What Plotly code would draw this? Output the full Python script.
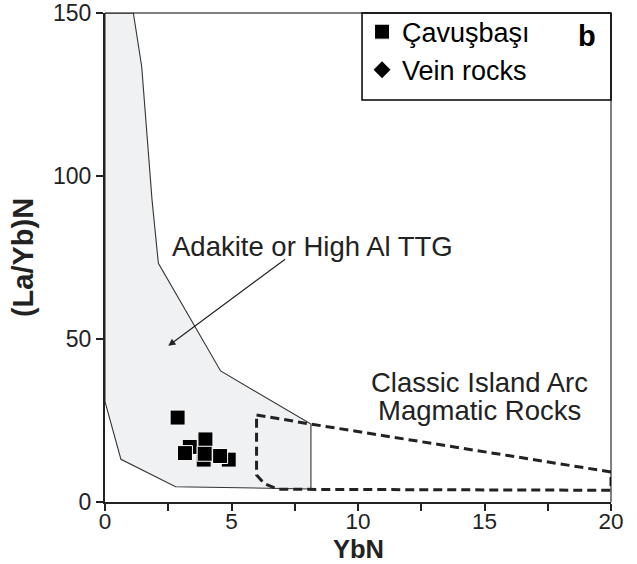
import plotly.graph_objects as go

# Adakite / high-Al TTG field outline (YbN, (La/Yb)N)
adakite_x = [0, 1.12, 1.45, 1.86, 2.11, 4.57, 8.14, 8.14, 2.79, 0.63, 0, 0]
adakite_y = [150, 150, 133.6, 92.6, 73.2, 40.2, 23.9, 4.0, 4.7, 13.1, 30.8, 150]

# Classic island-arc magmatic rocks field outline
arc_x = [5.99, 8.14, 20, 20, 6.85, 6.3, 5.99, 5.99]
arc_y = [26.7, 23.9, 9.2, 3.6, 3.9, 5.6, 8.3, 26.7]

# Çavuşbaşı samples
cav_ybn = [4.89, 3.90, 3.35, 2.87, 3.97, 3.16, 3.94, 4.55]
cav_layb = [13.0, 13.0, 16.9, 25.9, 19.2, 15.0, 14.8, 14.1]

# Vein rocks (none fall inside this panel)
vein_ybn = [None]
vein_layb = [None]

x_tickvals = [0, 2.5, 5, 7.5, 10, 12.5, 15, 17.5, 20]
x_ticktext = ["0", "", "5", "", "10", "", "15", "", "20"]
y_tickvals = [0, 50, 100, 150]

FONT = "Liberation Sans, Arial, Helvetica, sans-serif"
INK = "#222222"

fig = go.Figure()

fig.add_trace(go.Scatter(
    x=adakite_x, y=adakite_y, mode="lines", fill="toself",
    fillcolor="#f0f1f3", line=dict(color="#333333", width=1.1),
    showlegend=False, hoverinfo="skip"))

fig.add_trace(go.Scatter(
    x=arc_x, y=arc_y, mode="lines",
    line=dict(color=INK, width=3, dash="9px,5px"),
    showlegend=False, hoverinfo="skip"))

fig.add_trace(go.Scatter(
    x=cav_ybn, y=cav_layb, mode="markers", name="Çavuşbaşı",
    marker=dict(symbol="square", size=15, color="black",
                line=dict(color="white", width=1))))

fig.add_trace(go.Scatter(
    x=vein_ybn, y=vein_layb, mode="markers", name="Vein rocks",
    marker=dict(symbol="diamond", size=13, color="black")))

# field labels
fig.add_annotation(x=8.22, y=78.5, text="Adakite or High Al TTG",
                   showarrow=False, font=dict(size=27.5, color=INK, family=FONT))
fig.add_annotation(x=2.50, y=47.9, ax=7.18, ay=74.8, axref="x", ayref="y",
                   text="", showarrow=True, arrowhead=2, arrowsize=1.2,
                   arrowwidth=1.2, arrowcolor=INK)
fig.add_annotation(x=14.82, y=36.6, text="Classic Island Arc",
                   showarrow=False, font=dict(size=27.5, color=INK, family=FONT))
fig.add_annotation(x=14.82, y=28.0, text="Magmatic Rocks",
                   showarrow=False, font=dict(size=27.5, color=INK, family=FONT))

# x-axis title, placed below the tick labels
fig.add_annotation(x=0.5, y=-0.097, xref="paper", yref="paper",
                   xanchor="center", yanchor="middle", borderpad=0,
                   text="<b>YbN</b>", showarrow=False,
                   font=dict(size=25.5, color=INK, family=FONT))

# panel letter
fig.add_annotation(x=0.953, y=0.953, xref="paper", yref="paper",
                   xanchor="center", yanchor="middle",
                   text="<b>b</b>", showarrow=False,
                   font=dict(size=29, color="black", family=FONT))

# legend frame and thin top/right frame of the plot
fig.add_shape(type="rect", xref="paper", yref="paper",
              x0=0.508, x1=1, y0=0.822, y1=1,
              line=dict(color="black", width=1.5), layer="above")
fig.add_shape(type="line", xref="paper", yref="paper", x0=0, x1=1, y0=1, y1=1,
              line=dict(color="black", width=1))
fig.add_shape(type="line", xref="paper", yref="paper", x0=1, x1=1, y0=0, y1=1,
              line=dict(color="black", width=1))

fig.update_layout(
    width=637, height=564,
    margin=dict(l=105, r=26, t=13, b=62, autoexpand=False),
    paper_bgcolor="white", plot_bgcolor="white",
    font=dict(family=FONT, color=INK),
    legend=dict(x=0.508, y=1.011, xanchor="left", yanchor="top",
                bgcolor="rgba(0,0,0,0)", borderwidth=0,
                font=dict(size=27, color="black", family=FONT),
                itemsizing="trace", tracegroupgap=0),
    xaxis=dict(range=[0, 20], tickvals=x_tickvals, ticktext=x_ticktext,
               ticks="outside", ticklen=7, tickwidth=1.5, tickcolor=INK,
               showline=True, linecolor=INK, linewidth=2,
               showgrid=False, zeroline=False, automargin=False,
               ticklabelstandoff=-9,
               tickfont=dict(size=22.5, color=INK)),
    yaxis=dict(range=[0, 150], tickvals=y_tickvals,
               ticks="outside", ticklen=7, tickwidth=1.5, tickcolor=INK,
               showline=True, linecolor=INK, linewidth=2,
               showgrid=False, zeroline=False, automargin=False,
               tickfont=dict(size=23, color=INK),
               title=dict(text="<b>(La/Yb)N</b>", font=dict(size=29, color=INK),
                          standoff=11)),
)

fig.write_html("out.html")
